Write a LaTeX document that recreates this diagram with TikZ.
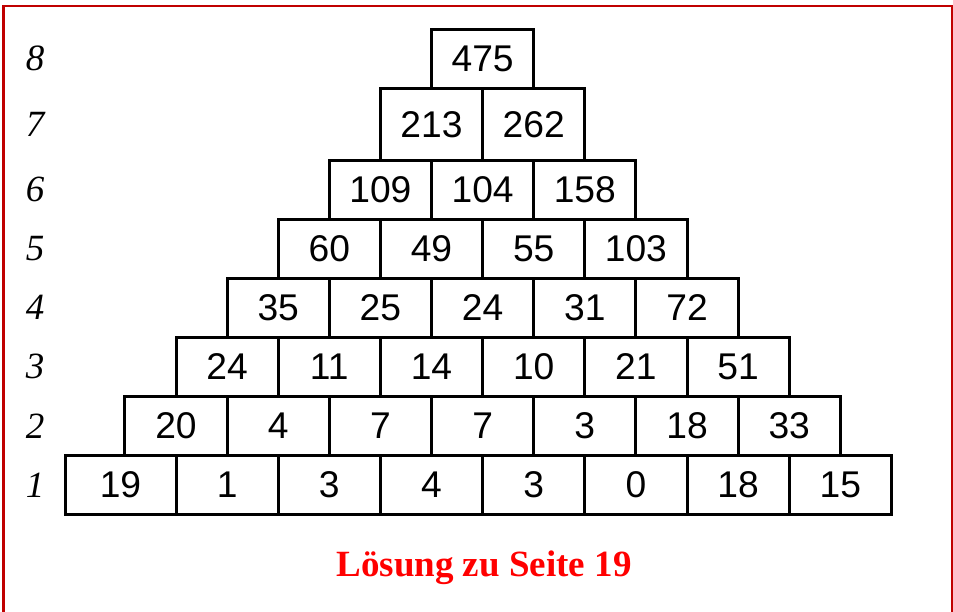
\documentclass[tikz,border=0pt]{standalone}
\usepackage{fontspec}
\setmainfont{Liberation Serif}
\setsansfont{Liberation Sans}
\usetikzlibrary{positioning}
\definecolor{framered}{RGB}{192,0,0}
\definecolor{titlered}{RGB}{255,0,0}

\begin{document}
\begin{tikzpicture}[
  x=0.5pt, y=-0.5pt,
  cell/.style={draw, line width=1.5pt, minimum width=51.1pt, minimum height=29.5pt,
    inner sep=0pt, outer sep=0pt, font=\sffamily\fontsize{18.6}{18.6}\selectfont},
  tall/.style={minimum height=36pt},
  rowlbl/.style={inner sep=0pt, font=\itshape\fontsize{18.5}{18.5}\selectfont},
  title/.style={anchor=base, inner sep=0pt, text=titlered,
    font=\bfseries\fontsize{18.5}{18.5}\selectfont},
  frame/.style={draw=framered, line width=1.1pt}
]
\useasboundingbox (0,0) rectangle (953,611);

% ── frame ───────────────────────────────────────────────────────────────
\draw[frame] (3.5,615) -- (3.5,6.3) -- (952.3,6.3) -- (952.3,615);

% ── row 1 ───────────────────────────────────────────────────────────────
\node[cell, minimum width=55.5pt] (r1a) at (120.5,484.8) {19};
\node[cell, right=0pt of r1a] (r1b) {1};
\node[cell, right=0pt of r1b] (r1c) {3};
\node[cell, right=0pt of r1c] (r1d) {4};
\node[cell, right=0pt of r1d] (r1e) {3};
\node[cell, right=0pt of r1e] (r1f) {0};
\node[cell, right=0pt of r1f] (r1g) {18};
\node[cell, right=0pt of r1g] (r1h) {15};

% ── row 2 ───────────────────────────────────────────────────────────────
\node[cell, above=0pt of r1a.north east] (r2a) {20};
\node[cell, right=0pt of r2a] (r2b) {4};
\node[cell, right=0pt of r2b] (r2c) {7};
\node[cell, right=0pt of r2c] (r2d) {7};
\node[cell, right=0pt of r2d] (r2e) {3};
\node[cell, right=0pt of r2e] (r2f) {18};
\node[cell, right=0pt of r2f] (r2g) {33};

% ── row 3 ───────────────────────────────────────────────────────────────
\node[cell, above=0pt of r2a.north east] (r3a) {24};
\node[cell, right=0pt of r3a] (r3b) {11};
\node[cell, right=0pt of r3b] (r3c) {14};
\node[cell, right=0pt of r3c] (r3d) {10};
\node[cell, right=0pt of r3d] (r3e) {21};
\node[cell, right=0pt of r3e] (r3f) {51};

% ── row 4 ───────────────────────────────────────────────────────────────
\node[cell, above=0pt of r3a.north east] (r4a) {35};
\node[cell, right=0pt of r4a] (r4b) {25};
\node[cell, right=0pt of r4b] (r4c) {24};
\node[cell, right=0pt of r4c] (r4d) {31};
\node[cell, right=0pt of r4d] (r4e) {72};

% ── row 5 ───────────────────────────────────────────────────────────────
\node[cell, above=0pt of r4a.north east] (r5a) {60};
\node[cell, right=0pt of r5a] (r5b) {49};
\node[cell, right=0pt of r5b] (r5c) {55};
\node[cell, right=0pt of r5c] (r5d) {103};

% ── row 6 ───────────────────────────────────────────────────────────────
\node[cell, above=0pt of r5a.north east] (r6a) {109};
\node[cell, right=0pt of r6a] (r6b) {104};
\node[cell, right=0pt of r6b] (r6c) {158};

% ── row 7 and 8 ─────────────────────────────────────────────────────────
\node[cell, tall, above=0pt of r6a.north east] (r7a) {213};
\node[cell, tall, right=0pt of r7a] (r7b) {262};
\node[cell, above=0pt of r7a.north east] (r8a) {475};

% ── row numbers ─────────────────────────────────────────────────────────
\coordinate (lx) at (35,0);
\node[rowlbl] (n1) at (lx |- r1a) {1};
\node[rowlbl] (n2) at (lx |- r2a) {2};
\node[rowlbl] (n3) at (lx |- r3a) {3};
\node[rowlbl] (n4) at (lx |- r4a) {4};
\node[rowlbl] (n5) at (lx |- r5a) {5};
\node[rowlbl] (n6) at (lx |- r6a) {6};
\node[rowlbl] (n7) at (lx |- r7a) {7};
\node[rowlbl] (n8) at (lx |- r8a) {8};

% ── caption ─────────────────────────────────────────────────────────────
\node[title] (sol) at (484,576.7) {Lösung zu Seite 19};

\end{tikzpicture}
\end{document}
